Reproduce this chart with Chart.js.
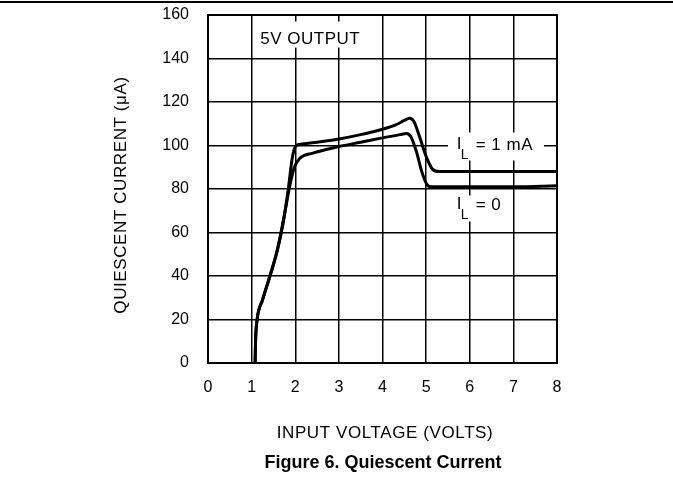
<!DOCTYPE html>
<html>
<head>
<meta charset="utf-8">
<script src="https://cdn.jsdelivr.net/npm/chart.js@4.4.1/dist/chart.umd.min.js"></script>
<style>
  html, body { margin: 0; padding: 0; background: #fff; }
  #wrap { width: 673px; height: 504px; position: relative; }
</style>
</head>
<body>
<div id="wrap"><canvas id="grafico"></canvas></div>
<script>
// Datos (tension de entrada en V, corriente en uA)
const voltsCarga1mA = [1.08, 1.09, 1.12, 1.25, 1.42, 1.58, 1.72, 1.84, 1.93, 2.0, 2.1, 2.5, 3.0, 3.5, 4.0, 4.3, 4.5, 4.62, 4.72, 4.85, 5.0, 5.15, 5.3, 6.0, 7.0, 8.0];
const corrienteCarga1mA = [0, 10, 19, 29, 40, 51, 64, 80, 94, 99.5, 100.5, 101.5, 103, 105, 107.5, 109.5, 111.5, 112.5, 111, 104, 95, 89, 88, 88, 88, 88];

const voltsSinCarga = [1.08, 1.09, 1.12, 1.25, 1.42, 1.6, 1.75, 1.88, 1.98, 2.1, 2.4, 3.0, 3.5, 4.0, 4.4, 4.55, 4.65, 4.78, 4.9, 5.02, 5.12, 6.0, 7.0, 8.0];
const corrienteSinCarga = [0, 10, 19, 29, 40, 53, 68, 82, 90, 94, 96.5, 99.5, 101.5, 103.5, 105, 105.5, 104, 97, 88, 82, 81, 81, 81, 81.5];

const ticksX = [0, 1, 2, 3, 4, 5, 6, 7, 8];
const ticksY = [0, 20, 40, 60, 80, 100, 120, 140, 160];

const FUENTE = '"Liberation Sans", Arial, sans-serif';

// Etiquetas con fondo blanco que tapan la grilla
const etiquetas = {
  id: 'etiquetas',
  beforeDatasetsDraw(chart) {
    const ctx = chart.ctx;
    const x = chart.scales.x, y = chart.scales.y;
    ctx.save();
    ctx.fillStyle = '#fff';
    // cajas blancas
    ctx.fillRect(x.getPixelForValue(1.15), y.getPixelForValue(157), 106, 26);
    ctx.fillRect(x.getPixelForValue(5.5), y.getPixelForValue(106), 96, 28);
    ctx.fillRect(x.getPixelForValue(5.55), y.getPixelForValue(77), 54, 26);

    ctx.fillStyle = '#000';
    ctx.textBaseline = 'middle';
    ctx.textAlign = 'left';
    ctx.font = '17px ' + FUENTE;
    ctx.letterSpacing = '0.5px';
    ctx.fillText('5V OUTPUT', x.getPixelForValue(1.2), y.getPixelForValue(149));

    // I_L = 1 mA
    const x1 = x.getPixelForValue(5.7), y1 = y.getPixelForValue(100);
    ctx.fillText('I', x1, y1 - 1);
    ctx.font = '14px ' + FUENTE;
    ctx.fillText('L', x1 + 4, y1 + 10);
    ctx.font = '17px ' + FUENTE;
    ctx.fillText('= 1 mA', x1 + 19, y1);

    // I_L = 0
    const y2 = y.getPixelForValue(72.5);
    ctx.fillText('I', x1, y2 - 1);
    ctx.font = '14px ' + FUENTE;
    ctx.fillText('L', x1 + 4, y2 + 10);
    ctx.font = '17px ' + FUENTE;
    ctx.fillText('= 0', x1 + 19, y2);
    ctx.restore();
  },
  afterDraw(chart) {
    const ctx = chart.ctx;
    const a = chart.chartArea;
    ctx.save();
    // marco del area
    ctx.strokeStyle = '#000';
    ctx.lineWidth = 2;
    ctx.strokeRect(a.left, a.top, a.right - a.left, a.bottom - a.top);
    // linea superior de la pagina
    ctx.beginPath();
    ctx.moveTo(0, 2);
    ctx.lineTo(673, 2);
    ctx.stroke();

    // titulos de ejes y leyenda de figura
    ctx.fillStyle = '#000';
    ctx.textAlign = 'center';
    ctx.textBaseline = 'middle';
    ctx.font = '17px ' + FUENTE;
    ctx.letterSpacing = '0.6px';
    ctx.fillText('INPUT VOLTAGE (VOLTS)', 385, 433);

    ctx.save();
    ctx.translate(121, 195);
    ctx.rotate(-Math.PI / 2);
    ctx.fillText('QUIESCENT CURRENT (\u03BCA)', 0, 0);
    ctx.restore();

    ctx.letterSpacing = '0px';
    ctx.font = 'bold 18px ' + FUENTE;
    ctx.fillText('Figure 6. Quiescent Current', 383, 463);
    ctx.restore();
  }
};

function crearGrafico() {
  const ctx = document.getElementById('grafico').getContext('2d');
  new Chart(ctx, {
    type: 'line',
    data: {
      datasets: [{
        label: 'IL = 1 mA',
        data: voltsCarga1mA.map((v, i) => ({ x: v, y: corrienteCarga1mA[i] })),
        borderColor: '#000',
        borderWidth: 3,
        pointRadius: 0,
        cubicInterpolationMode: 'monotone',
        fill: false
      }, {
        label: 'IL = 0',
        data: voltsSinCarga.map((v, i) => ({ x: v, y: corrienteSinCarga[i] })),
        borderColor: '#000',
        borderWidth: 3,
        pointRadius: 0,
        cubicInterpolationMode: 'monotone',
        fill: false
      }]
    },
    options: {
      responsive: true,
      maintainAspectRatio: false,
      animation: false,
      layout: { padding: { left: 0, top: 15, right: 116, bottom: 0 } },
      plugins: {
        legend: { display: false },
        tooltip: { enabled: false }
      },
      scales: {
        x: {
          type: 'linear',
          min: 0,
          max: 8,
          afterFit: s => { s.height = 141; s.paddingLeft = 0; s.paddingRight = 0; },
          afterBuildTicks: s => { s.ticks = ticksX.map(v => ({ value: v })); },
          grid: { color: '#000', lineWidth: 1.5, drawTicks: false },
          border: { display: false },
          ticks: { color: '#000', font: { size: 16, family: FUENTE }, padding: 15, maxRotation: 0 }
        },
        y: {
          min: 0,
          max: 160,
          afterFit: s => { s.width = 208; s.paddingTop = 0; s.paddingBottom = 0; },
          afterBuildTicks: s => { s.ticks = ticksY.map(v => ({ value: v })); },
          grid: { color: '#000', lineWidth: 1.5, drawTicks: false },
          border: { display: false },
          ticks: { color: '#000', font: { size: 16, family: FUENTE }, padding: 19 }
        }
      }
    },
    plugins: [etiquetas]
  });
}

window.onload = function() {
  crearGrafico();
};
</script>
</body>
</html>
